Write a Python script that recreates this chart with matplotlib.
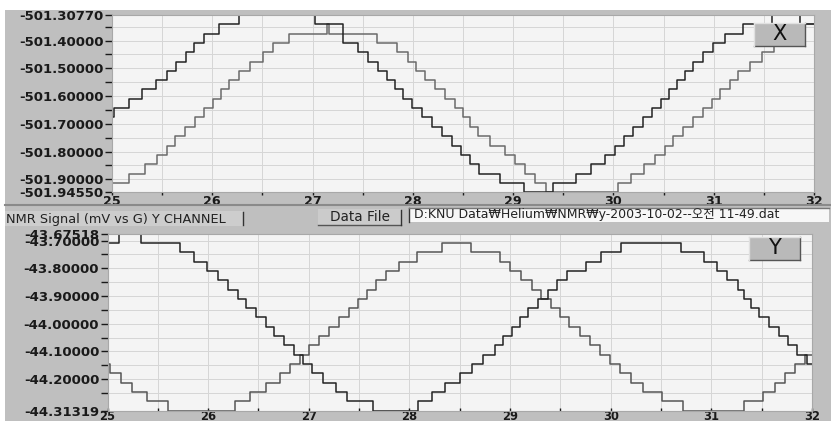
import matplotlib
matplotlib.use("Agg")
import matplotlib.pyplot as plt
from matplotlib.patches import Rectangle
from matplotlib.lines import Line2D
from matplotlib.ticker import FuncFormatter

plt.rcParams['font.family'] = ['DejaVu Sans', 'Noto Sans CJK KR']
plt.rcParams['font.weight'] = 'bold'

# ---- X channel (upper panel) ----
x_top, x_bottom = -501.30770, -501.94550
x_levels = [-501.3077, -501.341, -501.375, -501.408, -501.442, -501.476, -501.509,
            -501.543, -501.576, -501.610, -501.643, -501.677, -501.711, -501.744,
            -501.778, -501.811, -501.845, -501.879, -501.912, -501.9455]

xa_x = [25.00, 25.02, 25.17, 25.30, 25.435, 25.545, 25.64, 25.74, 25.82, 25.92, 26.07,
        26.27, 27.02, 27.30, 27.45, 27.55, 27.65, 27.74, 27.82, 27.90, 27.99, 28.09,
        28.19, 28.29, 28.39, 28.48, 28.57, 28.66, 28.87, 29.11, 29.40, 29.63, 29.78,
        29.915, 30.015, 30.11, 30.20, 30.29, 30.38, 30.47, 30.55, 30.63, 30.71, 30.79,
        30.89, 30.995, 31.11, 31.29, 31.58, 31.86, 32.0]
xa_k = [11, 10, 9, 8, 7, 6, 5, 4, 3, 2, 1,
        0, 1, 3, 4, 5, 6, 7, 8, 9, 10, 11,
        12, 13, 14, 15, 16, 17, 18, 19, 18, 17, 16,
        15, 14, 13, 12, 11, 10, 9, 8, 7, 6, 5,
        4, 3, 2, 1, 0, 1, 1]

xb_x = [25.00, 25.17, 25.33, 25.45, 25.545, 25.63, 25.73, 25.83, 25.92, 26.01, 26.09,
        26.17, 26.27, 26.38, 26.51, 26.61, 26.76, 27.14, 27.16, 27.64, 27.84, 27.95,
        28.03, 28.12, 28.22, 28.32, 28.42, 28.50, 28.57, 28.65, 28.77, 28.92, 29.02,
        29.12, 29.22, 29.33, 30.05, 30.18, 30.30, 30.41, 30.51, 30.59, 30.69, 30.79,
        30.89, 30.98, 31.06, 31.16, 31.24, 31.36, 31.48, 31.60, 31.72, 31.85, 32.0]
xb_k = [18, 17, 16, 15, 14, 13, 12, 11, 10, 9, 8,
        7, 6, 5, 4, 3, 2, 1, 2, 3, 4, 5,
        6, 7, 8, 9, 10, 11, 12, 13, 14, 15, 16,
        17, 18, 19, 18, 17, 16, 15, 14, 13, 12, 11,
        10, 9, 8, 7, 6, 5, 4, 3, 2, 1, 1]

# ---- Y channel (lower panel) ----
y_top, y_bottom = -43.67518, -44.31319
y_levels = [-43.67518, -43.709, -43.742, -43.776, -43.810, -43.843, -43.877,
            -43.910, -43.944, -43.977, -44.011, -44.045, -44.078, -44.112,
            -44.145, -44.179, -44.213, -44.246, -44.280, -44.3132]

ya_x = [25.00, 25.118, 25.33, 25.72, 25.86, 25.985, 26.10, 26.20, 26.30, 26.38, 26.48,
        26.57, 26.65, 26.75, 26.85, 26.94, 27.03, 27.14, 27.27, 27.38, 27.64, 28.09,
        28.22, 28.35, 28.50, 28.62, 28.73, 28.85, 28.93, 29.02, 29.10, 29.18, 29.28,
        29.38, 29.47, 29.57, 29.755, 29.90, 30.10, 30.695, 30.93, 31.06, 31.16, 31.26,
        31.32, 31.39, 31.47, 31.57, 31.67, 31.76, 31.85, 31.95, 32.0]
ya_k = [1, 0, 1, 2, 3, 4, 5, 6, 7, 8, 9,
        10, 11, 12, 13, 14, 15, 16, 17, 18, 19, 18,
        17, 16, 15, 14, 13, 12, 11, 10, 9, 8, 7,
        6, 5, 4, 3, 2, 1, 2, 3, 4, 5, 6,
        7, 8, 9, 10, 11, 12, 13, 14, 14]

yb_x = [25.00, 25.02, 25.13, 25.24, 25.39, 25.60, 26.27, 26.42, 26.57, 26.71, 26.81,
        26.91, 27.00, 27.10, 27.20, 27.30, 27.40, 27.49, 27.58, 27.67, 27.77, 27.90,
        28.08, 28.32, 28.61, 28.90, 29.00, 29.11, 29.22, 29.31, 29.41, 29.50, 29.59,
        29.69, 29.79, 29.89, 29.99, 30.09, 30.20, 30.32, 30.51, 30.72, 31.32, 31.51,
        31.63, 31.73, 31.83, 31.93, 32.0]
yb_k = [14, 15, 16, 17, 18, 19, 18, 17, 16, 15, 14,
        13, 12, 11, 10, 9, 8, 7, 6, 5, 4, 3,
        2, 1, 2, 3, 4, 5, 6, 7, 8, 9, 10,
        11, 12, 13, 14, 15, 16, 17, 18, 19, 18, 17,
        16, 15, 14, 13, 13]

x_major = [-501.9, -501.8, -501.7, -501.6, -501.5, -501.4]
x_minor = [-501.85, -501.75, -501.65, -501.55, -501.45, -501.35]
y_major = [-44.2, -44.1, -44.0, -43.9, -43.8, -43.7]
y_minor = [-44.25, -44.15, -44.05, -43.95, -43.85, -43.75]
x_ticks = [25, 26, 27, 28, 29, 30, 31, 32]
x_half = [25.5, 26.5, 27.5, 28.5, 29.5, 30.5, 31.5]

file_text = "D:KNU Data\u20a9Helium\u20a9NMR\u20a9y-2003-10-02--오전 11-49.dat"

W, H = 831, 421
def fx(px):
    return px / W
def fy(py):
    return 1 - py / H

fig = plt.figure(figsize=(8.31, 4.21), dpi=100, facecolor='white')
fig.add_artist(Rectangle((fx(5), 0), 1 - fx(5), fy(10), transform=fig.transFigure,
                         fc='#bfbfbf', ec='none', zorder=-10))

def panel(rect, top, bottom, major, minor, curves, levels, xdir='out', xsize=9.2):
    ax = fig.add_axes(rect)
    ax.set_facecolor('#f4f4f4')
    ax.set_xlim(25, 32)
    ax.set_ylim(bottom, top)
    ax.set_xticks(x_ticks)
    ax.set_xticks(x_half, minor=True)
    ax.set_yticks([bottom] + major + [top])
    ax.set_yticks(minor, minor=True)
    ax.yaxis.set_major_formatter(FuncFormatter(lambda v, p: f'{v:.5f}'))
    ax.grid(which='both', color='#d6d6d6', lw=0.7)
    ax.set_axisbelow(True)
    ax.tick_params(axis='y', which='both', direction='out', length=5, width=1,
                   pad=1, labelsize=9.5, colors='#1a1a1a')
    ax.tick_params(axis='x', which='both', direction=xdir, length=2, width=1,
                   pad=0, labelsize=xsize, colors='#1a1a1a')
    for s in ax.spines.values():
        s.set_color('#a8a8a8')
        s.set_linewidth(0.8)
    for xs, ks, col in curves:
        ax.step(xs, [levels[k] for k in ks], where='post', color=col, lw=1.1)
    return ax

ax1 = panel([fx(112), fy(192), fx(814) - fx(112), fy(15) - fy(192)],
            x_top, x_bottom, x_major, x_minor,
            [(xb_x, xb_k, '#6a6a6a'), (xa_x, xa_k, '#222222')], x_levels)
ax2 = panel([fx(107.5), fy(410.5), fx(812) - fx(107.5), fy(233.7) - fy(410.5)],
            y_top, y_bottom, y_major, y_minor,
            [(yb_x, yb_k, '#555555'), (ya_x, ya_k, '#222222')], y_levels,
            xdir='in', xsize=8.3)

def box(x0, y0, x1, y1, fc, ec='none', z=5):
    fig.add_artist(Rectangle((fx(x0), fy(y1)), fx(x1) - fx(x0), fy(y0) - fy(y1),
                             transform=fig.transFigure, fc=fc, ec=ec, lw=1, zorder=z))

def hline(x0, x1, y, col, lw=1.0):
    fig.add_artist(Line2D([fx(x0), fx(x1)], [fy(y), fy(y)], transform=fig.transFigure,
                          color=col, lw=lw, zorder=6))

def vline(x, y0, y1, col, lw=1.0):
    fig.add_artist(Line2D([fx(x), fx(x)], [fy(y0), fy(y1)], transform=fig.transFigure,
                          color=col, lw=lw, zorder=6))

# channel marker boxes
for (x0, y0, x1, y1, lab) in [(754, 23, 805, 46, 'X'), (749, 237, 800, 260, 'Y')]:
    box(x0, y0, x1, y1, '#b9b9b9')
    hline(x0, x1, y1, '#555555')
    vline(x1, y0, y1, '#555555')
    hline(x0, x1, y0, '#e0e0e0')
    vline(x0, y0, y1, '#e0e0e0')
    fig.text(fx((x0 + x1) / 2), fy((y0 + y1) / 2), lab, ha='center', va='center',
             fontsize=15, fontweight='normal', color='#111111', zorder=7)

# middle tool strip
hline(5, 831, 205, '#8a8a8a', lw=1.5)
box(5, 211, 243, 226, '#cdcdcd', z=4)
vline(243, 212, 225, '#333333')
fig.text(fx(6), fy(219.5), "NMR Signal (mV vs G) Y CHANNEL", ha='left', va='center',
         fontsize=9.3, fontweight='normal', color='#222222', zorder=7)
box(318, 209, 401, 225, '#cbcbcb', z=4)
hline(318, 401, 225, '#555555')
vline(401, 210, 225, '#333333')
fig.text(fx(360), fy(217), "Data File", ha='center', va='center',
         fontsize=9.8, fontweight='normal', color='#222222', zorder=7)
box(409, 208, 829, 222, '#f7f7f7', z=4)
vline(409, 208, 222, '#333333')
hline(409, 829, 208, '#777777')
fig.text(fx(414), fy(214.5), file_text, ha='left', va='center',
         fontsize=9.0, fontweight='normal', color='#222222', zorder=7)

fig.savefig('out.png', dpi=100, facecolor='white')
